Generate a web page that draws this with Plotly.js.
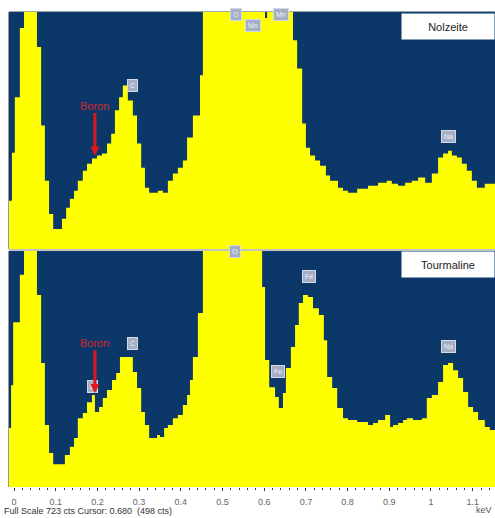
<!DOCTYPE html>
<html><head><meta charset="utf-8">
<script src="https://cdn.plot.ly/plotly-3.0.1.min.js"></script>
<style>html,body{margin:0;padding:0;background:#fff;}#chart{width:495px;height:518px;}</style>
</head><body><div id="chart"></div>
<script>
// Step start energies (keV) and counts
const nolzKeV = [-0.012,-0.005,0.002,0.014,0.024,0.055,0.065,0.074,0.084,0.094,0.115,0.125,0.134,0.144,0.153,0.165,0.175,0.187,0.199,0.211,0.223,0.233,0.242,0.252,0.261,0.273,0.285,0.295,0.305,0.314,0.324,0.345,0.357,0.369,0.381,0.393,0.405,0.415,0.429,0.446,0.453,0.602,0.607,0.669,0.679,0.691,0.700,0.710,0.722,0.734,0.748,0.758,0.777,0.789,0.801,0.823,0.849,0.873,0.894,0.906,0.921,0.938,0.954,0.969,0.986,1.002,1.017,1.029,1.041,1.050,1.062,1.074,1.086,1.098,1.110,1.129];
const nolzCounts = [147,294,463,674,1000,616,377,208,107,61,92,126,153,178,208,239,260,276,285,291,322,352,423,463,499,453,407,322,248,187,172,178,172,208,230,248,270,340,407,530,1500,705,1500,637,551,383,309,285,270,254,224,208,187,178,172,184,193,202,208,199,193,202,208,218,202,230,279,291,300,285,279,260,239,208,187,199];
const tourKeV = [-0.012,-0.007,-0.002,0.014,0.024,0.055,0.065,0.074,0.084,0.094,0.122,0.134,0.144,0.153,0.165,0.175,0.187,0.194,0.204,0.213,0.223,0.235,0.245,0.254,0.285,0.295,0.305,0.314,0.324,0.343,0.350,0.360,0.369,0.381,0.393,0.405,0.415,0.422,0.429,0.441,0.453,0.595,0.602,0.612,0.626,0.635,0.645,0.652,0.664,0.674,0.683,0.693,0.705,0.717,0.731,0.743,0.751,0.763,0.775,0.789,0.801,0.823,0.849,0.861,0.873,0.890,0.902,0.909,0.921,0.933,0.942,0.957,0.978,0.990,1.002,1.017,1.029,1.041,1.053,1.065,1.077,1.089,1.101,1.113,1.129,1.141];
const tourCounts = [181,312,505,650,1000,588,380,190,104,70,98,123,150,211,227,260,282,230,245,273,297,328,349,398,352,303,230,190,150,159,153,181,190,211,221,251,282,328,398,533,1500,613,389,306,276,242,288,365,429,496,564,588,582,548,527,450,337,303,242,211,205,199,190,196,205,221,184,190,196,205,211,205,211,273,282,322,374,380,358,334,291,245,230,205,184,175];
const endKeV = 1.16;
const fullScale = 723;
const tickVals = [0,0.1,0.2,0.3,0.4,0.5,0.6,0.7,0.8,0.9,1.0,1.1];
const tickText = ["0","0.1","0.2","0.3","0.4","0.5","0.6","0.7","0.8","0.9","1","1.1"];
const panelNames = ["Nolzeite","Tourmaline"];
const nolzPeaks = [{t:"C",x:0.283,y:478},{t:"O",x:0.532,y:695},{t:"Mn",x:0.573,y:662},{t:"Mn",x:0.640,y:695},{t:"Na",x:1.043,y:322}];
const tourPeaks = [{t:"B",x:0.189,y:288},{t:"C",x:0.283,y:420},{t:"O",x:0.530,y:701},{t:"Fe",x:0.633,y:334},{t:"Fe",x:0.707,y:625},{t:"Na",x:1.043,y:411}];
const footer = "Full Scale 723 cts Cursor: 0.680  (498 cts)";

const YEL = '#ffff00', BLUE = '#0b3769';
function stepTrace(xs, ys, yaxis) {
  return {
    x: xs.concat([endKeV]), y: ys.concat([ys[ys.length-1]]),
    type: 'scatter', mode: 'lines', line: {shape: 'hv', color: YEL, width: 0},
    fill: 'tozeroy', fillcolor: YEL, yaxis: yaxis, hoverinfo: 'skip', showlegend: false
  };
}
const data = [stepTrace(nolzKeV, nolzCounts, 'y2'), stepTrace(tourKeV, tourCounts, 'y')];

const FONT = 'Liberation Sans, Arial, sans-serif';
const ann = [];
function bubble(p, yref) {
  ann.push({x: p.x, y: p.y, xref: 'x', yref: yref, text: p.t, showarrow: false,
    font: {family: FONT, size: 7, color: '#eef1f7'}, bgcolor: '#a4aec4',
    bordercolor: '#d3d9e6', borderwidth: 1, borderpad: 2, yanchor: 'bottom', xanchor: 'center'});
}
nolzPeaks.forEach(p => bubble(p, 'y2'));
tourPeaks.forEach(p => bubble(p, 'y'));
// Boron arrows
[['y2', 285], ['y', 288]].forEach(([yr, yv]) => {
  ann.push({x: 0.194, y: yv, xref: 'x', yref: yr, text: 'Boron', showarrow: true,
    ax: 0, ay: -50, arrowcolor: '#e0161e', arrowwidth: 3, arrowhead: 2, arrowsize: 0.6,
    font: {family: FONT, size: 11, color: '#d8262c'}});
});
// panel name boxes
ann.push({xref: 'paper', yref: 'paper', x: 0.905, y: 0.9488, xanchor: 'center', yanchor: 'middle',
  text: panelNames[0], showarrow: false,
  font: {family: FONT, size: 11, color: '#222'}, bgcolor: '#ffffff', width: 90, height: 23, align: 'center'});
ann.push({xref: 'paper', yref: 'paper', x: 0.905, y: 0.4894, xanchor: 'center', yanchor: 'middle',
  text: panelNames[1], showarrow: false,
  font: {family: FONT, size: 11, color: '#222'}, bgcolor: '#ffffff', width: 90, height: 23, align: 'center'});
ann.push({xref: 'paper', yref: 'paper', x: 0.004, y: 0.0, xanchor: 'left', yanchor: 'bottom', text: footer,
  showarrow: false, font: {family: FONT, size: 9, color: '#333'}});
ann.push({xref: 'paper', yref: 'paper', x: 0.998, y: 0.002, xanchor: 'right', yanchor: 'bottom', text: 'keV',
  showarrow: false, font: {family: FONT, size: 9, color: '#555'}});

const layout = {
  width: 495, height: 518, margin: {l: 0, r: 0, t: 0, b: 0},
  paper_bgcolor: '#ffffff', plot_bgcolor: BLUE, showlegend: false,
  xaxis: {domain: [0.0182, 1], range: [-0.012, 1.1535], tickvals: tickVals, ticktext: tickText,
    ticks: 'outside', ticklen: 3, tickcolor: '#333', showgrid: false, zeroline: false,
    ticklabelstandoff: 3,
    tickfont: {family: FONT, size: 9, color: '#666'}, anchor: 'y', showline: false,
    minor: {dtick: 0.02, ticks: 'outside', ticklen: 2, tickcolor: '#333', showgrid: false}},
  yaxis: {domain: [0.0598, 0.5154], range: [0, fullScale], showticklabels: false, showgrid: false,
    zeroline: false, ticks: '', showline: true, linecolor: '#999', linewidth: 1},
  yaxis2: {domain: [0.5193, 0.9768], range: [0, fullScale], showticklabels: false, showgrid: false,
    zeroline: false, ticks: '', showline: true, linecolor: '#999', linewidth: 1, anchor: 'x'},
  shapes: [
    {type: 'line', xref: 'paper', yref: 'paper', x0: 0.0182, x1: 1, y0: 0.9778, y1: 0.9778, line: {color: '#9aa', width: 1}},
    {type: 'line', xref: 'paper', yref: 'paper', x0: 0.0182, x1: 1, y0: 0.5174, y1: 0.5174, line: {color: '#888', width: 1}}
  ],
  annotations: ann
};
Plotly.newPlot('chart', data, layout, {staticPlot: true, displayModeBar: false});
</script></body></html>
